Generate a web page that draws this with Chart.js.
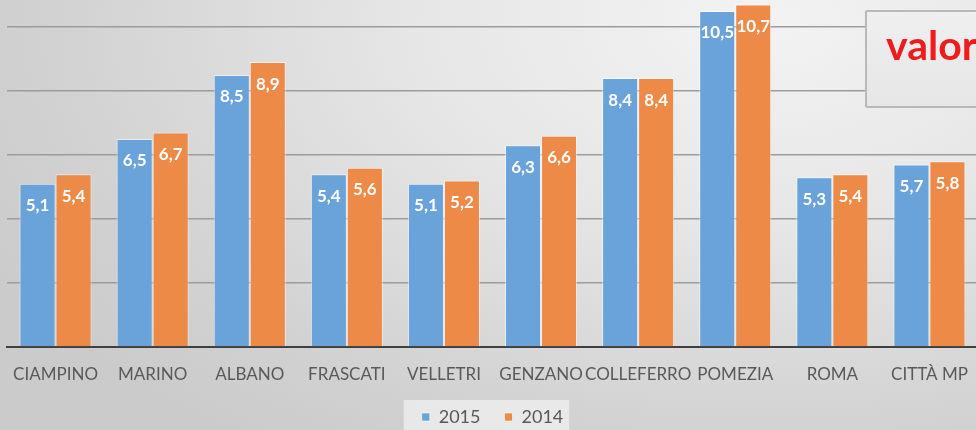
<!DOCTYPE html>
<html>
<head>
<meta charset="utf-8">
<script src="https://cdn.jsdelivr.net/npm/chart.js@4/dist/chart.umd.min.js"></script>
<style>
  html, body { margin: 0; padding: 0; }
  #wrap {
    position: relative; width: 976px; height: 430px; overflow: hidden;
    background: radial-gradient(ellipse 90% 120% at 78% 5%, #f3f3f3 0%, #e6e6e6 40%, #d2d2d2 80%, #cbcbcb 100%);
  }
  #c { position: absolute; left: 0; top: 0; }
  #titlebox {
    position: absolute; left: 865px; top: 10px; width: 140px; height: 94px;
    border: 2px solid #b9b9b9; border-radius: 2px;
    background: linear-gradient(180deg, #efefef 0%, #e6e6e6 100%);
    overflow: hidden;
  }
  #titlebox span {
    position: absolute; left: 19px; top: 9px;
    font-family: Lato, sans-serif; font-weight: 700; font-size: 41px; line-height: 48px;
    color: #ee1c1c; white-space: nowrap;
  }
</style>
</head>
<body>
<div id="wrap">
  <canvas id="c" width="978" height="436"></canvas>
  <div id="titlebox"><span>valor</span></div>
</div>
<script>
const categories = ['CIAMPINO', 'MARINO', 'ALBANO', 'FRASCATI', 'VELLETRI', 'GENZANO', 'COLLEFERRO', 'POMEZIA', 'ROMA', 'CITTÀ MP'];
const values2015 = [5.1, 6.5, 8.5, 5.4, 5.1, 6.3, 8.4, 10.5, 5.3, 5.7];
const values2014 = [5.4, 6.7, 8.9, 5.6, 5.2, 6.6, 8.4, 10.7, 5.4, 5.8];
const seriesLabels = ['2015', '2014'];
const yMin = 0;
const yMax = 10.84;
const yStep = 2;

const blue = '#69a3d9';
const orange = '#ee8a47';

const legendBg = {
  id: 'legendBg',
  beforeDraw(chart) {
    const lg = chart.legend;
    if (!lg || !lg.legendHitBoxes || !lg.legendHitBoxes.length) return;
    const hb = lg.legendHitBoxes;
    const first = hb[0], last = hb[hb.length - 1];
    const ctx = chart.ctx;
    ctx.save();
    ctx.fillStyle = 'rgba(240,240,240,0.75)';
    const x0 = first.left - 18, x1 = last.left + last.width + 6;
    const y0 = first.top - 8;
    ctx.fillRect(x0, y0, x1 - x0, chart.height - y0);
    ctx.restore();
  }
};

const barLabels = {
  id: 'barLabels',
  afterDatasetsDraw(chart) {
    const ctx = chart.ctx;
    ctx.save();
    ctx.font = '700 17px Lato, sans-serif';
    ctx.fillStyle = '#ffffff';
    ctx.textAlign = 'center';
    ctx.textBaseline = 'middle';
    chart.data.datasets.forEach((ds, di) => {
      const meta = chart.getDatasetMeta(di);
      meta.data.forEach((el, i) => {
        const txt = ds.data[i].toFixed(1).replace('.', ',');
        ctx.fillText(txt, el.x, el.y + 22);
      });
    });
    ctx.restore();
  }
};

new Chart(document.getElementById('c'), {
  type: 'bar',
  data: {
    labels: categories,
    datasets: [
      { label: seriesLabels[0], data: values2015, backgroundColor: blue, borderColor: 'rgba(255,255,255,0.55)', borderWidth: 1 },
      { label: seriesLabels[1], data: values2014, backgroundColor: orange, borderColor: 'rgba(255,255,255,0.55)', borderWidth: 1 }
    ]
  },
  options: {
    responsive: false,
    animation: false,
    devicePixelRatio: 1,
    layout: { padding: { left: 7, right: 0, top: 0, bottom: 0 } },
    datasets: { bar: { categoryPercentage: 0.742, barPercentage: 1.0 } },
    plugins: {
      legend: {
        position: 'bottom',
        labels: {
          boxWidth: 8, boxHeight: 8, padding: 24,
          color: '#595959',
          font: { family: 'Lato, sans-serif', size: 18 }
        }
      },
      tooltip: { enabled: false },
      title: { display: false }
    },
    scales: {
      x: {
        grid: { display: false, drawTicks: false },
        border: { display: true, color: '#404040', width: 2 },
        ticks: {
          autoSkip: false, maxRotation: 0, minRotation: 0, padding: 17,
          color: '#595959',
          font: { family: 'Lato, sans-serif', size: 17 }
        },
        afterFit(scale) {
          scale.height = 37;
          scale.paddingLeft = 0;
          scale.paddingRight = 0;
        }
      },
      y: {
        min: yMin, max: yMax,
        grid: {
          drawTicks: false,
          lineWidth: 1.5,
          color: (c) => (c.tick && c.tick.value === 0) ? 'rgba(0,0,0,0)' : '#9c9c9c'
        },
        border: { display: false },
        ticks: { display: false, stepSize: yStep, includeBounds: false }
      }
    }
  },
  plugins: [legendBg, barLabels]
});
</script>
</body>
</html>
